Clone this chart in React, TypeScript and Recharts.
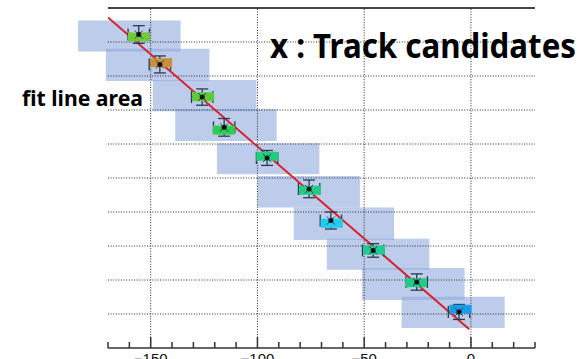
import React from 'react'
import {
  ComposedChart,
  Scatter,
  Line,
  XAxis,
  YAxis,
  ReferenceArea,
  ReferenceLine,
  ErrorBar,
} from 'recharts'

// axis ticks (every 10, labels only on the majors)
const xTicks = [-170, -160, -150, -140, -130, -120, -110, -100, -90, -80, -70, -60, -50, -40, -30, -20, -10, 0, 10, 20, 30]
const majorTicks = [-150, -100, -50, 0]
const layerLines = [1, 2, 3, 4, 5, 6, 7, 8, 9]

// fit line search windows (blue boxes)
const areaX1 = [-184, -171, -149, -138.5, -119, -100, -83, -67.5, -51, -32.5]
const areaX2 = [-136, -122.5, -100.5, -91, -71, -52, -36, -19.5, -3, 15.8]
const areaY1 = [8.72, 7.85, 6.96, 6.09, 5.11, 4.13, 3.18, 2.3, 1.41, 0.59]
const areaY2 = [9.63, 8.8, 7.88, 7.03, 6.02, 5.06, 4.13, 3.21, 2.35, 1.51]

// hit cells
const hitX = [-155.5, -145.1, -125.4, -115.7, -95.4, -75.4, -65.3, -45.4, -25.7, -4.9]
const hitY = [9.15, 8.39, 7.39, 6.41, 5.64, 4.64, 3.67, 2.88, 1.92, 1.14]
const hitColors = ['#72c83c', '#c8903c', '#5ccc3c', '#2ecc50', '#22cc80', '#22cc88', '#22ccee', '#22cc90', '#22cc88', '#1a9be8']

// track candidates
const candX = [-155.6, -145.7, -125.9, -115.6, -95.5, -75.8, -65.6, -45.8, -25.4, -5.6]
const candY = [9.22, 8.34, 7.38, 6.49, 5.59, 4.68, 3.75, 2.87, 1.94, 1.06]
const candErrX = [5, 5, 5, 5, 5, 5, 5, 5, 5, 5]
const candErrY = [0.26, 0.25, 0.24, 0.26, 0.22, 0.26, 0.25, 0.2, 0.24, 0.22]

// fitted line
const fitX = [-170, -0.8]
const fitY = [9.72, 0.55]

const hits = hitX.map((x, i) => ({ x, y: hitY[i], color: hitColors[i] }))
const candidates = candX.map((x, i) => ({ x, y: candY[i], ex: candErrX[i], ey: candErrY[i] }))
const fit = fitX.map((x, i) => ({ x, y: fitY[i] }))

const gridStroke = '#2a2a2a'
const errColor = '#2b3a4f'

function AxisTick(props: any) {
  const { x, y, payload } = props
  const major = majorTicks.includes(payload.value)
  return (
    <g>
      <line x1={x} x2={x} y1={y} y2={y - (major ? 11 : 6)} stroke="#333" strokeWidth={1.5} />
      {major && (
        <text x={x} y={y + 16} textAnchor="middle" fontSize={15} fontFamily="'Liberation Sans', Arial, sans-serif" fill="#111">
          {payload.value < 0 ? `\u2212${Math.abs(payload.value)}` : payload.value}
        </text>
      )}
    </g>
  )
}

function HitShape(props: any) {
  const { cx, cy, payload } = props
  return <rect x={cx - 11} y={cy - 4.5} width={22} height={9} fill={payload.color} />
}

function CandidateShape(props: any) {
  const { cx, cy } = props
  return (
    <g>
      <line x1={cx - 4} y1={cy - 4} x2={cx + 4} y2={cy + 4} stroke={errColor} strokeWidth={1} />
      <line x1={cx - 4} y1={cy + 4} x2={cx + 4} y2={cy - 4} stroke={errColor} strokeWidth={1} />
      <circle cx={cx} cy={cy} r={2.5} fill="#111" />
    </g>
  )
}

export default function App() {
  return (
    <div style={{ position: 'absolute', left: 0, top: 0, width: 582, height: 359, background: '#fff' }}>
      <ComposedChart width={582} height={359} margin={{ top: 8, right: 47, bottom: 0, left: 108 }}>
        <XAxis
          dataKey="x"
          type="number"
          domain={[-170, 30]}
          allowDataOverflow
          ticks={xTicks}
          interval={0}
          height={11}
          tickSize={0}
          tickMargin={0}
          tickLine={false}
          axisLine={{ stroke: '#333', strokeWidth: 1.5 }}
          tick={<AxisTick />}
        />
        <YAxis dataKey="y" type="number" domain={[0, 10]} hide />
        {areaX1.map((x1, i) => (
          <ReferenceArea
            key={`a${i}`}
            x1={x1}
            x2={areaX2[i]}
            y1={areaY1[i]}
            y2={areaY2[i]}
            fill="#8faadc"
            fillOpacity={0.6}
            stroke="none"
            ifOverflow="visible"
          />
        ))}
        {layerLines.map((y) => (
          <ReferenceLine key={`h${y}`} y={y} stroke={gridStroke} strokeDasharray="1 1.6" />
        ))}
        {majorTicks.map((x) => (
          <ReferenceLine key={`v${x}`} x={x} stroke={gridStroke} strokeDasharray="1 1.6" />
        ))}
        <ReferenceLine y={10} stroke="#444" strokeWidth={2} />
        <Scatter data={hits} dataKey="y" shape={<HitShape />} isAnimationActive={false} />
        <Line
          data={fit}
          dataKey="y"
          type="linear"
          stroke="#d8202c"
          strokeWidth={2}
          dot={false}
          activeDot={false}
          isAnimationActive={false}
        />
        <Scatter data={candidates} dataKey="y" shape={<CandidateShape />} isAnimationActive={false}>
          <ErrorBar dataKey="ex" direction="x" width={6} stroke={errColor} strokeWidth={1.3} isAnimationActive={false} />
          <ErrorBar dataKey="ey" direction="y" width={6} stroke={errColor} strokeWidth={1.3} isAnimationActive={false} />
        </Scatter>
      </ComposedChart>
      <svg
        width={582}
        height={359}
        style={{ position: 'absolute', left: 0, top: 0, pointerEvents: 'none' }}
      >
        <text
          x={270}
          y={58}
          fontSize={34}
          fontWeight="bold"
          fontFamily="'Noto Sans', sans-serif"
          textLength={306}
          lengthAdjust="spacingAndGlyphs"
          fill="#000"
        >
          x : Track candidates
        </text>
        <text
          x={22}
          y={106}
          fontSize={22}
          fontWeight="bold"
          fontFamily="'Noto Sans', sans-serif"
          textLength={121}
          lengthAdjust="spacingAndGlyphs"
          fill="#000"
        >
          fit line area
        </text>
      </svg>
    </div>
  )
}
